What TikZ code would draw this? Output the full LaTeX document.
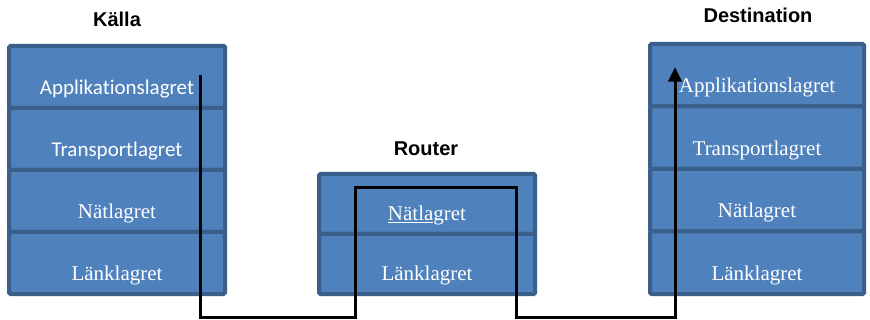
\documentclass[tikz,border=0pt]{standalone}
\usepackage{fontspec}
\setmainfont{Liberation Serif}
\setsansfont{Liberation Sans}
\newfontfamily\calfont[Ligatures={NoCommon,NoContextual}]{Carlito}
\usetikzlibrary{arrows.meta}
\definecolor{layerfill}{HTML}{4F81BD}
\definecolor{layerline}{HTML}{3A5F8B}
\tikzset{
  layer/.style={draw=layerline,fill=layerfill,line width=3pt,rounded corners=1pt,
    minimum width=162pt,minimum height=46.5pt,text=white,
    font=\fontsize{15.75}{18}\selectfont,text height=26pt,text depth=0pt},
  ttl/.style={font=\sffamily\bfseries\fontsize{15}{18}\selectfont},
  flow/.style={line width=2.25pt,-{Triangle[length=11pt,width=10pt]}}
}
\begin{document}
\begin{tikzpicture}[x=.75pt,y=-.75pt]
\useasboundingbox (0,0) rectangle (870,320);
% stacks
\foreach \i/\t in {1/{\calfont Applikationslagret},2/{\calfont Transportlagret},3/Nätlagret,4/Länklagret}
  \node[layer] (src\i) at (117,{46+62*\i-31}) {\t};
\foreach \i/\t in {1/{\underline{Nätla}gret},2/Länklagret}
  \node[layer,minimum height=45pt,text height=24pt] (rtr\i) at (427,{174+60*\i-30}) {\t};
\foreach \i/\t in {1/Applikationslagret,2/Transportlagret,3/Nätlagret,4/Länklagret}
  \node[layer,minimum width=160.5pt,minimum height=46.875pt] (dst\i) at (757,{44+62.5*\i-31.25}) {\t};
\node[ttl] (srcttl) at (117,19.5) {Källa};
\node[ttl] (rtrttl) at (426,148.5) {Router};
\node[ttl] (dstttl) at (758,15.5) {Destination};
% path of the data
\path (200,75)coordinate(start) (355,188)coordinate(r1) (516,188)coordinate(r2)
  (675,67)coordinate(end) (0,317)coordinate(bot);
\draw[flow] (start)--(start|-bot)--(r1|-bot)--(r1)--(r2)--(r2|-bot)--(end|-bot)--(end);
\end{tikzpicture}
\end{document}
